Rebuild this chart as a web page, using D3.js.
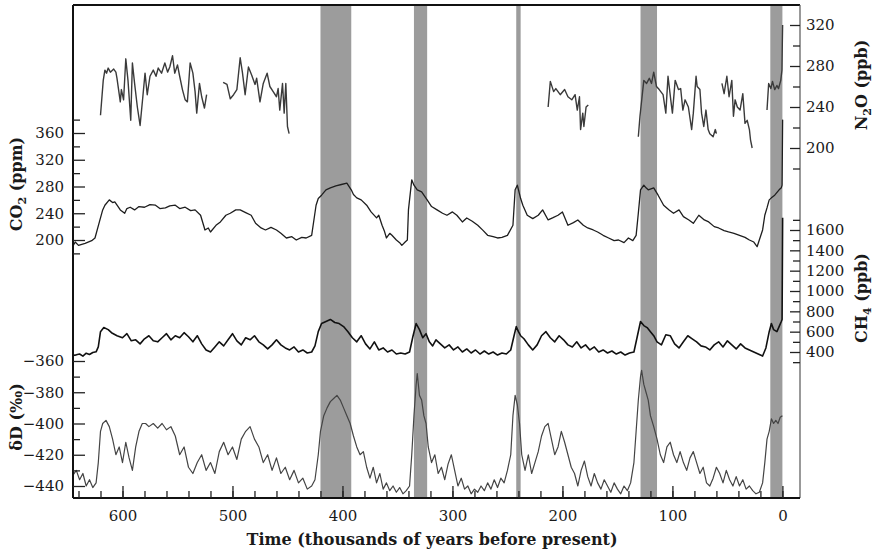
<!DOCTYPE html>
<html>
<head>
<meta charset="utf-8">
<script src="https://cdn.jsdelivr.net/npm/d3@7"></script>
<style>
body{margin:0;background:#fff;}
svg text{font-family:"DejaVu Serif","Liberation Serif",serif;fill:#1a1a1a;}
</style>
</head>
<body>
<svg id="chart" width="874" height="556"></svg>
<script>
// interglacial shading, [older, younger] in ka
var bands = [[420, 392], [335, 323], [242, 238], [129, 114], [11, 0]];

var xTicks = [600, 500, 400, 300, 200, 100, 0];
var co2Ticks = [200, 240, 280, 320, 360];
var ddTicks = [-440, -420, -400, -380, -360];
var n2oTicks = [200, 240, 280, 320];
var ch4Ticks = [400, 600, 800, 1000, 1200, 1400, 1600];

// N2O (ppb), null = gap between ice core pieces
var n2o = [
  [620,232],[617.5,266],[616,276],[614.5,273],[613,278],[611,274],[608,277],[606,274],[605,268],[602,245],[601,257],[599,247],[597,287],[595,266],[592.5,227],[591,283],[589,263],[586.5,240],[584,222],[581.5,250],[579.5,273],[577.5,252],[575,270],[572,276],[569.5,270],[567.5,278],[564.5,273],[561.5,283],[559,274],[557,279],[554.5,290],[552.5,273],[550,281],[548,270],[545.5,257],[543,247],[541,245],[538.5,283],[536,273],[534,255],[532.5,234],[530,263],[528,250],[525.5,239],[523.5,252],
  null,
  [508.5,264],[505,262],[502,248],[499,252],[496,257],[493,288],[491,274],[488.5,252],[485.5,279],[482.5,271],[479.5,262],[478,268],[475,245],[472,263],[468.5,273],[466,260],[463,255],[460,250],[458.5,258],[457,237],[454.5,263],[453,234],[451.5,263],[450,221],[448.5,214],
  null,
  [213,240],[211,265],[208,255],[206,258],[202,252],[198,257],[195,250],[191.5,247],[188.5,252],[186.5,237],[184.5,250],[183.5,218],[181.5,234],[180.5,221],[178.5,240],[176.5,242],
  null,
  [131,211],[129.5,231],[126,266],[123.5,263],[121,268],[119,263],[117,274],[114.5,260],[112,257],[108.5,252],[106,234],[104,270],[101.5,247],[100,234],[97.5,266],[94.5,257],[92.5,258],[90.5,237],[88.5,247],[85.5,240],[82.5,218],[81,234],[78.5,270],[77.5,260],[75,257],[73.5,234],[71.5,221],[69.5,237],[67.5,218],[66,214],[63,211],[61,218],[60,214],
  null,
  [55,263],[53,253],[50.5,270],[48.5,250],[46,266],[44.5,231],[43,247],[41,240],[38.5,237],[36,253],[34,224],[32,227],[30,218],[29,208],[27.5,200],
  null,
  [14,237],[12.5,263],[10.5,258],[9,265],[7,257],[5,261],[3.5,258],[1.5,266],[0.4,276],[0.1,300],[-0.2,320]
];

// CO2 (ppm)
var co2 = [
  [645,191],[643,197],[640,192],[634,195],[628,199],[625,203],[621,227],[618,245],[616,252],[612,260],[609,256],[607,257],[604,250],[602,245],[598,240],[596,247],[593,249],[589,245],[585,250],[580,249],[575,253],[570,252],[566,247],[561,248],[557,251],[552,252],[548,247],[543,249],[538,244],[534,245],[529,237],[525,215],[522,218],[520,212],[515,222],[511,227],[506,237],[502,240],[497,245],[493,245],[488,241],[483,237],[479,225],[474,218],[470,215],[465,219],[460,215],[456,210],[451,203],[446,205],[442,200],[437,204],[433,203],[428,207],[424,252],[422,262],[419,267],[415,275],[411,278],[406,281],[401,283],[396,285],[392,275],[390,268],[387,263],[383,260],[378,252],[374,242],[369,233],[367,237],[364,222],[362,214],[360,203],[357,210],[355,207],[351,200],[348,196],[346,192],[343,197],[341,200],[340,245],[337,290],[335,282],[332,275],[328,272],[323,260],[319,250],[314,245],[309,240],[305,237],[300,242],[296,237],[291,227],[287,233],[282,228],[277,222],[272,214],[268,207],[263,205],[259,203],[255,204],[250,207],[245,222],[243,275],[241,282],[238,262],[236,252],[232,237],[227,232],[222,237],[218,245],[213,230],[209,233],[204,237],[200,242],[195,222],[190,226],[186,230],[181,222],[177,218],[172,215],[168,212],[163,207],[158,203],[153,199],[149,200],[144,196],[140,203],[136,199],[133,207],[131,240],[129,275],[126,282],[124,278],[122,275],[117,278],[113,267],[110,258],[108,252],[103,245],[99,240],[94,245],[90,235],[85,230],[81,225],[76,237],[71,230],[67,227],[62,220],[58,218],[53,214],[49,212],[44,210],[39,207],[34,204],[30,200],[26,197],[23,190],[21,200],[18,215],[16,237],[14,248],[12,260],[10,263],[7,267],[3,275],[1,278],[0.3,282],[0.1,320],[-0.2,380]
];

// CH4 (ppb)
var ch4 = [
  [645,365],[642,372],[639,380],[636,360],[633,388],[630,375],[627,395],[624,402],[622,450],[620,600],[617,640],[613,620],[610,590],[605,560],[600,540],[596,580],[592,510],[588,520],[584,480],[580,530],[576,560],[572,510],[568,500],[564,540],[560,580],[556,520],[552,560],[548,540],[544,590],[540,550],[536,500],[532,560],[528,480],[524,420],[520,400],[516,450],[512,500],[508,460],[504,520],[500,580],[496,510],[492,470],[488,540],[484,520],[480,560],[476,500],[472,470],[468,430],[464,470],[460,520],[456,470],[452,440],[448,420],[444,450],[440,400],[436,420],[432,390],[428,400],[425,460],[422,600],[419,680],[415,700],[411,720],[407,690],[403,680],[399,650],[395,600],[391,540],[387,500],[383,560],[379,480],[375,430],[371,500],[367,420],[363,440],[359,400],[355,420],[351,380],[347,390],[343,380],[339,400],[336,550],[333,680],[330,620],[327,540],[324,580],[321,500],[318,460],[315,520],[311,480],[307,440],[303,470],[299,420],[295,450],[291,400],[287,430],[283,390],[279,420],[275,380],[271,410],[267,380],[263,400],[259,370],[255,390],[251,380],[247,420],[244,560],[242,650],[240,600],[238,560],[235,530],[231,470],[227,420],[223,470],[219,560],[215,600],[211,540],[207,500],[203,560],[199,520],[195,470],[191,450],[187,500],[183,440],[179,470],[175,420],[171,450],[167,400],[163,420],[159,390],[155,410],[151,380],[147,400],[143,370],[139,390],[135,400],[132,550],[129,700],[126,660],[123,640],[120,600],[117,560],[114,500],[110,470],[106,570],[102,560],[98,480],[94,440],[90,500],[86,560],[82,530],[78,500],[74,460],[70,450],[66,420],[62,470],[58,500],[54,450],[50,510],[46,470],[42,430],[38,480],[34,440],[30,420],[26,400],[22,380],[18,360],[15,440],[12,600],[10,680],[8,620],[5,600],[3,650],[1,700],[0.3,720],[0.1,1100],[-0.2,1720]
];

// deuterium (per mil)
var dD = [
  [645,-433],[642,-430],[639,-436],[636,-432],[633,-440],[630,-436],[627,-441],[624,-438],[622,-425],[620,-405],[618,-400],[615,-398],[612,-402],[609,-410],[606,-420],[603,-415],[600,-425],[597,-412],[594,-422],[591,-430],[588,-415],[585,-405],[582,-400],[579,-400],[576,-402],[572,-400],[568,-403],[564,-400],[560,-404],[556,-402],[552,-408],[548,-420],[544,-415],[540,-428],[536,-432],[532,-425],[528,-420],[524,-430],[520,-425],[516,-432],[512,-418],[508,-412],[504,-420],[500,-415],[496,-423],[492,-410],[488,-405],[484,-402],[480,-410],[476,-415],[472,-425],[468,-420],[464,-430],[460,-422],[456,-432],[452,-428],[448,-436],[444,-430],[440,-438],[436,-435],[432,-442],[428,-440],[425,-436],[422,-420],[420,-405],[417,-395],[414,-390],[411,-386],[408,-384],[405,-382],[402,-385],[399,-390],[396,-395],[393,-400],[390,-408],[387,-415],[384,-420],[381,-418],[378,-428],[375,-435],[372,-428],[369,-438],[366,-432],[363,-442],[360,-438],[357,-443],[354,-440],[351,-444],[348,-441],[345,-445],[342,-443],[339,-440],[337,-420],[335,-395],[333,-375],[332,-368],[330,-382],[328,-385],[326,-395],[324,-400],[322,-415],[319,-425],[316,-420],[313,-432],[310,-428],[307,-436],[304,-426],[301,-420],[298,-430],[295,-440],[292,-435],[289,-442],[286,-440],[283,-445],[280,-442],[277,-444],[274,-440],[271,-443],[268,-438],[265,-442],[262,-436],[259,-441],[256,-435],[253,-438],[250,-430],[247,-420],[245,-395],[243,-382],[241,-388],[239,-400],[237,-420],[234,-430],[231,-420],[228,-432],[225,-425],[222,-418],[219,-408],[216,-402],[213,-400],[210,-410],[207,-420],[204,-415],[201,-405],[198,-412],[195,-420],[192,-428],[189,-432],[186,-440],[183,-430],[180,-424],[177,-434],[174,-440],[171,-432],[168,-438],[165,-442],[162,-436],[159,-440],[156,-444],[153,-438],[150,-442],[147,-445],[144,-440],[141,-443],[138,-438],[135,-425],[133,-405],[131,-385],[129,-370],[128,-366],[126,-375],[124,-380],[122,-385],[120,-395],[117,-402],[114,-410],[111,-420],[108,-425],[105,-415],[102,-412],[99,-420],[96,-425],[93,-418],[90,-425],[87,-430],[84,-422],[81,-418],[78,-425],[75,-432],[72,-428],[69,-438],[66,-440],[63,-435],[60,-428],[57,-432],[54,-438],[51,-430],[48,-436],[45,-440],[42,-434],[39,-440],[36,-436],[33,-442],[30,-440],[27,-443],[24,-445],[21,-444],[18,-438],[16,-425],[14,-410],[12,-405],[10,-397],[8,-400],[6,-398],[4,-400],[2,-396],[0,-395]
];

var svg = d3.select('#chart');
var plotL = 73, plotR = 800, plotT = 5, plotB = 498;

var x = d3.scaleLinear().domain([645, -16]).range([plotL, plotR]);
var yCO2 = d3.scaleLinear().domain([200, 360]).range([240, 133]);
var yN2O = d3.scaleLinear().domain([200, 320]).range([148, 25]);
var yCH4 = d3.scaleLinear().domain([400, 1600]).range([352, 230]);
var yDD = d3.scaleLinear().domain([-440, -360]).range([486, 361]);

//shaded bands
svg.selectAll('.band')
  .data(bands)
  .enter()
  .append('rect')
  .attr('class', 'band')
  .attr('x', function(d){ return x(d[0]); })
  .attr('width', function(d){ return x(d[1]) - x(d[0]); })
  .attr('y', plotT)
  .attr('height', plotB - plotT)
  .attr('fill', '#9c9c9c');

function drawLine(data, y, color, width) {
  var line = d3.line()
    .defined(function(d){ return d !== null; })
    .x(function(d){ return x(d[0]); })
    .y(function(d){ return y(d[1]); });
  svg.append('path')
    .datum(data)
    .attr('d', line)
    .attr('fill', 'none')
    .attr('stroke', color)
    .attr('stroke-width', width)
    .attr('stroke-linejoin', 'round');
}

drawLine(n2o, yN2O, '#3a3a3a', 1.4);
drawLine(co2, yCO2, '#1e1e1e', 1.3);
drawLine(ch4, yCH4, '#111', 1.6);
drawLine(dD, yDD, '#444', 1.2);

//frame
svg.append('line').attr('x1', plotL).attr('x2', plotR).attr('y1', plotT).attr('y2', plotT)
  .attr('stroke', '#111').attr('stroke-width', 2);
svg.append('line').attr('x1', plotL).attr('x2', plotL).attr('y1', plotT).attr('y2', plotB)
  .attr('stroke', '#111').attr('stroke-width', 2);
svg.append('line').attr('x1', plotR).attr('x2', plotR).attr('y1', plotT).attr('y2', plotB)
  .attr('stroke', '#555').attr('stroke-width', 1.2);
svg.append('line').attr('x1', plotL).attr('x2', plotR).attr('y1', plotB).attr('y2', plotB)
  .attr('stroke', '#111').attr('stroke-width', 2);

function styleAxis(g) {
  g.select('.domain').remove();
  g.selectAll('line').attr('stroke', '#222').attr('stroke-width', 1.3);
  g.selectAll('text').attr('font-size', 15).attr('fill', '#1a1a1a')
    .attr('font-family', '"DejaVu Serif", serif');
}

//bottom axis
svg.append('g').attr('transform', 'translate(0,' + plotB + ')')
  .call(d3.axisBottom(x).tickValues(d3.range(640, -1, -20)).tickSizeInner(-7).tickFormat(''))
  .call(styleAxis);
svg.append('g').attr('transform', 'translate(0,' + plotB + ')')
  .call(d3.axisBottom(x).tickValues(xTicks).tickSizeInner(-12).tickPadding(12).tickFormat(d3.format('d')))
  .call(styleAxis);

//left axes
svg.append('g').attr('transform', 'translate(' + plotL + ',0)')
  .call(d3.axisLeft(yCO2).tickValues([180, 220, 260, 300, 340, 380]).tickSizeInner(-7).tickFormat(''))
  .call(styleAxis);
svg.append('g').attr('transform', 'translate(' + plotL + ',0)')
  .call(d3.axisLeft(yCO2).tickValues(co2Ticks).tickSizeInner(-12).tickPadding(9))
  .call(styleAxis);
svg.append('g').attr('transform', 'translate(' + plotL + ',0)')
  .call(d3.axisLeft(yDD).tickValues([-430, -410, -390, -370]).tickSizeInner(-7).tickFormat(''))
  .call(styleAxis);
svg.append('g').attr('transform', 'translate(' + plotL + ',0)')
  .call(d3.axisLeft(yDD).tickValues(ddTicks).tickSizeInner(-12).tickPadding(9).tickFormat(d3.format('d')))
  .call(styleAxis);

//right axes
svg.append('g').attr('transform', 'translate(' + plotR + ',0)')
  .call(d3.axisRight(yN2O).tickValues([180, 220, 260, 300]).tickSizeInner(-7).tickFormat(''))
  .call(styleAxis);
svg.append('g').attr('transform', 'translate(' + plotR + ',0)')
  .call(d3.axisRight(yN2O).tickValues(n2oTicks).tickSizeInner(-10).tickPadding(6))
  .call(styleAxis);
svg.append('g').attr('transform', 'translate(' + plotR + ',0)')
  .call(d3.axisRight(yCH4).tickValues([300, 500, 700, 900, 1100, 1300, 1500, 1700]).tickSizeInner(-7).tickFormat(''))
  .call(styleAxis);
svg.append('g').attr('transform', 'translate(' + plotR + ',0)')
  .call(d3.axisRight(yCH4).tickValues(ch4Ticks).tickSizeInner(-10).tickPadding(6).tickFormat(d3.format('d')))
  .call(styleAxis);

//axis titles
function vTitle(px, py, main, sub, rest) {
  var t = svg.append('text')
    .attr('transform', 'translate(' + px + ',' + py + ') rotate(-90)')
    .attr('text-anchor', 'middle')
    .attr('font-weight', 'bold')
    .attr('font-size', 16);
  t.append('tspan').text(main);
  if (sub) {
    t.append('tspan').attr('font-size', 11).attr('dy', 4).text(sub);
    t.append('tspan').attr('dy', -4).text(rest);
  } else {
    t.append('tspan').text(rest);
  }
}
vTitle(22, 184, 'CO', '2', ' (ppm)');
vTitle(22, 417, 'δD', null, ' (‰)');
vTitle(867, 85, 'N', '2', 'O (ppb)');
vTitle(867, 298, 'CH', '4', ' (ppb)');

svg.append('text')
  .attr('x', 432).attr('y', 545)
  .attr('text-anchor', 'middle')
  .attr('font-weight', 'bold')
  .attr('font-size', 16)
  .text('Time (thousands of years before present)');
</script>
</body>
</html>
